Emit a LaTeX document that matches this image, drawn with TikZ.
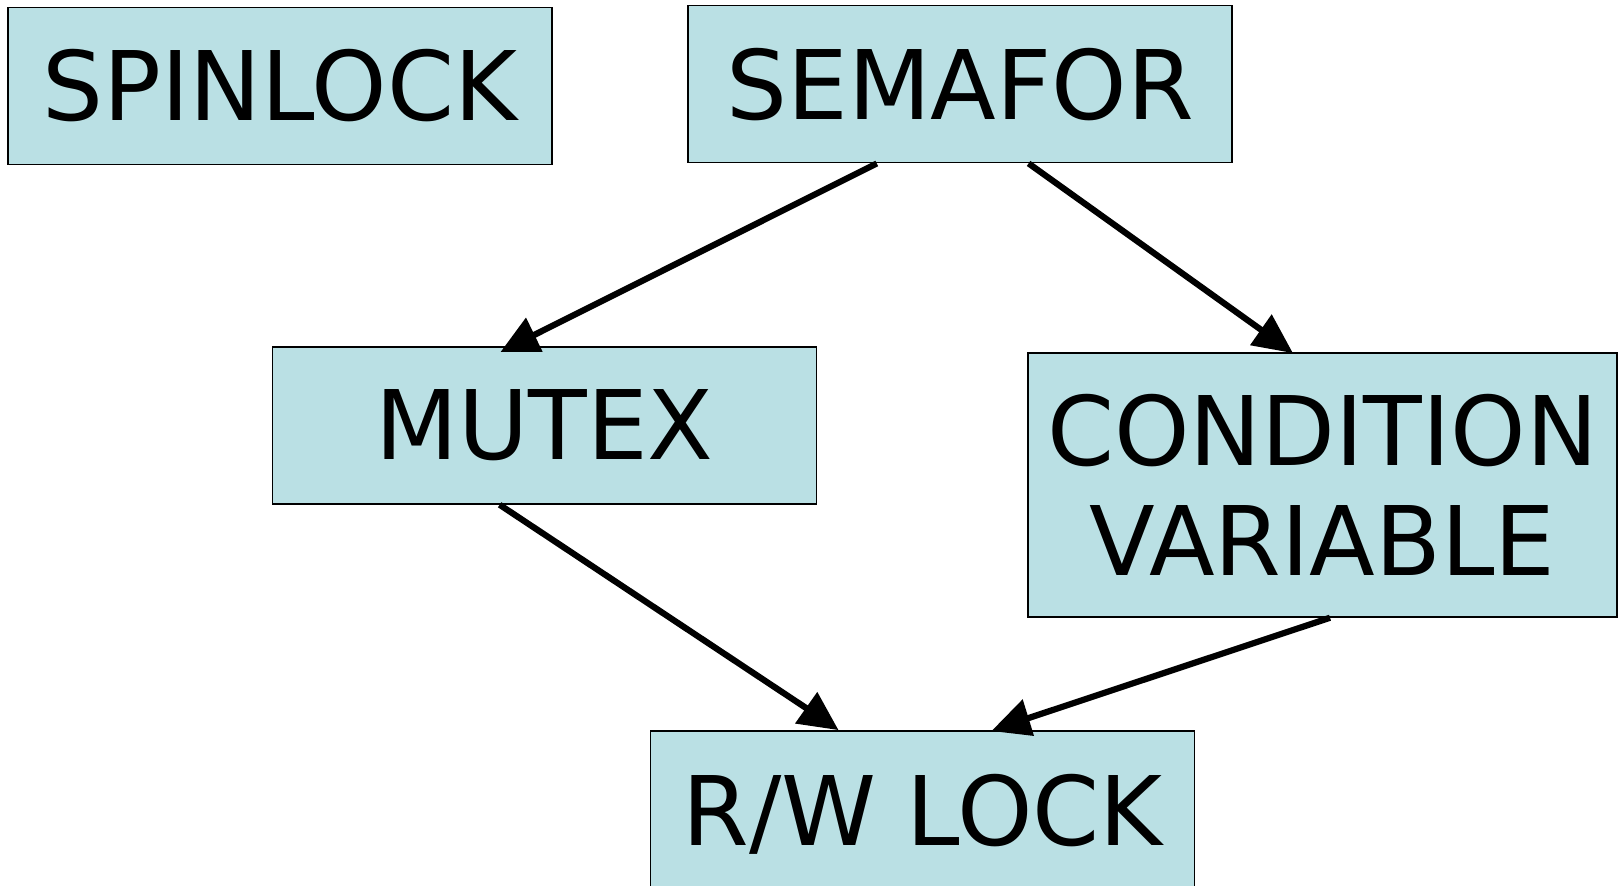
\documentclass[tikz,border=0pt]{standalone}
\usepackage{fontspec}
\setmainfont{DejaVu Sans}
\usetikzlibrary{calc}
\definecolor{boxfill}{RGB}{186,224,228}
\begin{document}
\begin{tikzpicture}[x=0.5pt,y=-0.5pt,
  lockbox/.style={draw=black, line width=0.75pt, fill=boxfill,
    minimum width=272pt, minimum height=78.5pt, inner sep=0pt,
    font=\fontsize{48}{55.25}\selectfont, align=center},
  link/.style={line width=3.1pt},
  head/.style={fill=black}]
\useasboundingbox (0,0) rectangle (1619,886);

% synchronisation primitives
\node[lockbox] (spin)  at (280,85.8)   {SPINLOCK};
\node[lockbox] (sem)   at (960.2,84.2) {SEMAFOR};
\node[lockbox] (mutex) at (544.6,425.5) {MUTEX};
\node[lockbox, minimum width=294.5pt, minimum height=132pt] (cond) at (1322.5,485)
  {CONDITION\\VARIABLE};
\node[lockbox, text depth=0pt] (rw) at (922.5,809.5) {R/W LOCK};

% semaphore -> mutex
\draw[link] ($(sem.south)+(-83.4,0)$) -- ($(mutex.north)+(-21.6,-5.7)$);
\fill[head] ($(mutex.north)+(-43.9,5.7)$) -- ($(mutex.north)+(-1.9,5.7)$)
  -- ($(mutex.north)+(-18.6,-28.7)$) -- cycle;

% semaphore -> condition variable
\draw[link] ($(sem.south)+(68.4,0)$) -- ($(cond.north)+(-51,-15)$);
\fill[head] ($(cond.north)+(-72.5,-7)$) -- ($(cond.north)+(-50.8,-38)$)
  -- ($(cond.north)+(-29.8,0.7)$) -- cycle;

% mutex -> r/w lock
\draw[link] ($(mutex.south)+(-45,0)$) -- ($(rw.north)+(-105.5,-15)$);
\fill[head] ($(rw.north)+(-127.5,-6.7)$) -- ($(rw.north)+(-105.2,-38.3)$)
  -- ($(rw.north)+(-84.2,-0.3)$) -- cycle;

% condition variable -> r/w lock
\draw[link] ($(cond.south)+(7.5,0)$) -- ($(rw.north)+(93.5,-8)$);
\fill[head] ($(rw.north)+(69.2,0.7)$) -- ($(rw.north)+(100.2,-31)$)
  -- ($(rw.north)+(111.5,5.7)$) -- cycle;
\end{tikzpicture}
\end{document}
